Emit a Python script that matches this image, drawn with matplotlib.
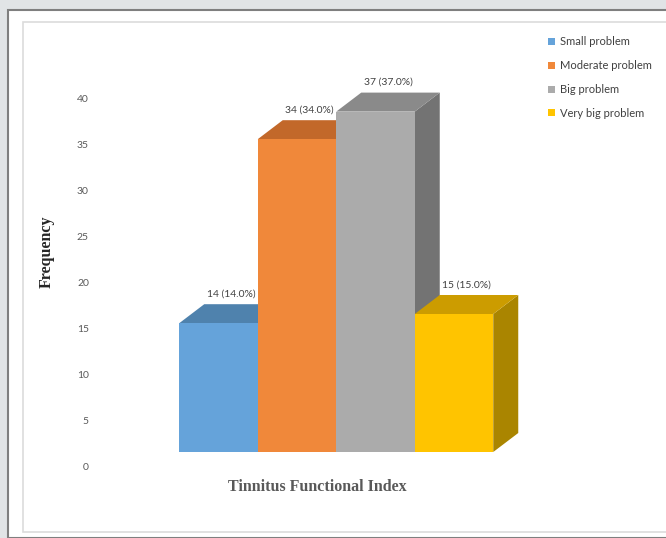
import matplotlib
matplotlib.use("Agg")
import matplotlib.pyplot as plt
from matplotlib.patches import Polygon, Rectangle
from matplotlib.transforms import ScaledTranslation

categories = ["Small problem", "Moderate problem", "Big problem", "Very big problem"]
counts = [14, 34, 37, 15]
percents = [14.0, 34.0, 37.0, 15.0]
yticks = [0, 5, 10, 15, 20, 25, 30, 35, 40]

front = ["#65a3da", "#f0883a", "#ababab", "#ffc400"]
top = ["#4f82ad", "#c2682a", "#8a8a8a", "#cc9c00"]
side = ["#3f6a8f", "#a0561f", "#737373", "#aa8500"]

W, H = 666, 538
fig = plt.figure(figsize=(W / 100, H / 100), dpi=100, facecolor="#e1e4e6")

# page frame
fig.patches.append(Rectangle((8 / W, 0), 1, 1 - 10 / H, transform=fig.transFigure,
                             facecolor="white", edgecolor="#7f7f7f", linewidth=1.5,
                             zorder=-2))
fig.patches.append(Rectangle((23 / W, 6 / H), 1, 1 - 28 / H, transform=fig.transFigure,
                             facecolor="white", edgecolor="#dcdcdc", linewidth=1.2,
                             zorder=-1))

# axes placed so that bars land where they do in the reference
px_unit = 9.2
ax = fig.add_axes([100 / W, (H - 452) / H, 440 / W, 402 / H])
ax.set_zorder(2)
ax.set_ylim(0, 402 / px_unit)
bar_px = 78.5
x0 = -(218.5 - 100) / bar_px
ax.set_xlim(x0, x0 + 440 / bar_px)
ax.patch.set_alpha(0)
for s in ax.spines.values():
    s.set_visible(False)

dx = 25 / bar_px
dy = 19 / px_unit

# side faces first, then top faces, then fronts (later bars overlap earlier)
for i, v in enumerate(counts):
    l, r = i - 0.5, i + 0.5
    ax.add_patch(Polygon([(r, 0), (r + dx, dy), (r + dx, v + dy), (r, v)],
                         closed=True, facecolor=side[i], edgecolor="none",
                         clip_on=False, zorder=1 + i))
    ax.add_patch(Polygon([(l, v), (l + dx, v + dy), (r + dx, v + dy), (r, v)],
                         closed=True, facecolor=top[i], edgecolor="none",
                         clip_on=False, zorder=1 + i))
    ax.bar(i, v, width=1.0, color=front[i], edgecolor="none", label=categories[i],
           zorder=1.5 + i, clip_on=False)

for i, v in enumerate(counts):
    ax.annotate(f"{v} ({percents[i]:.1f}%)", (i + dx / 2, v + dy), xytext=(0, 4),
                textcoords="offset points", ha="center", va="bottom",
                fontsize=7.5, color="#404040", family="Lato")

ax.set_xticks([])
ax.set_yticks(yticks)
ax.set_yticklabels([str(t) for t in yticks], fontsize=7.5, color="#595959", family="Lato")
ax.tick_params(axis="y", length=0, pad=8)
off = ScaledTranslation(0, -14 / 100, fig.dpi_scale_trans)
for lab in ax.get_yticklabels():
    lab.set_transform(lab.get_transform() + off)

fig.text(47 / W, 1 - 252 / H, "Frequency", rotation=90, ha="center", va="center",
         fontsize=11.5, fontweight="bold", family="Liberation Serif", color="#262626")
fig.text(317 / W, 1 - 487 / H, "Tinnitus Functional Index", ha="center", va="center",
         fontsize=11.5, fontweight="bold", family="Liberation Serif", color="#595959")

handles, labels = ax.get_legend_handles_labels()
leg = fig.legend(handles, labels, loc="upper left", bbox_to_anchor=(544 / W, 1 - 32 / H),
                 frameon=False, prop={"family": "Lato", "size": 8}, handlelength=0.6,
                 handleheight=0.6, handletextpad=0.4, labelspacing=1.15, borderaxespad=0)
for t in leg.get_texts():
    t.set_color("#404040")

fig.savefig("out.png", dpi=100, facecolor=fig.get_facecolor())
